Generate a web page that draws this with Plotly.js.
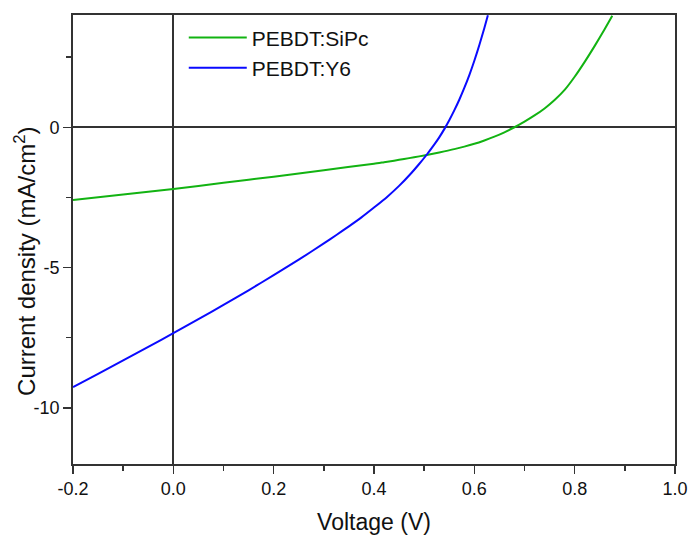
<!DOCTYPE html>
<html>
<head>
<meta charset="utf-8">
<script src="https://cdn.plot.ly/plotly-3.0.1.min.js"></script>
<style>
  html, body { margin: 0; padding: 0; background: #fff; }
  #chart { width: 691px; height: 535px; }
</style>
</head>
<body>
<div id="chart"></div>
<script>
// J–V curves of the two blend devices (voltage in V, current density in mA/cm²)
const sipcVoltage = [-0.2, -0.1, 0.0, 0.1, 0.2, 0.3, 0.4, 0.42, 0.44, 0.46, 0.48, 0.50, 0.52, 0.54, 0.56, 0.58, 0.60, 0.62, 0.64, 0.66, 0.68, 0.70, 0.72, 0.74, 0.76, 0.78, 0.80, 0.82, 0.84, 0.86, 0.875];
const sipcCurrent = [-2.59, -2.40, -2.20, -1.98, -1.76, -1.53, -1.30, -1.245, -1.19, -1.13, -1.07, -1.005, -0.935, -0.86, -0.78, -0.69, -0.59, -0.47, -0.335, -0.18, 0.0, 0.20, 0.42, 0.67, 0.97, 1.33, 1.80, 2.33, 2.90, 3.50, 3.97];

const y6Voltage = [-0.2, -0.15, -0.1, -0.05, 0.0, 0.05, 0.1, 0.15, 0.2, 0.25, 0.3, 0.325, 0.35, 0.375, 0.4, 0.425, 0.45, 0.475, 0.49, 0.505, 0.52, 0.53, 0.541, 0.55, 0.56, 0.57, 0.58, 0.59, 0.60, 0.61, 0.62, 0.627];
const y6Current = [-9.26, -8.79, -8.31, -7.83, -7.34, -6.84, -6.33, -5.81, -5.27, -4.72, -4.14, -3.84, -3.53, -3.21, -2.86, -2.50, -2.09, -1.62, -1.31, -0.98, -0.62, -0.36, -0.04, 0.25, 0.60, 0.98, 1.40, 1.86, 2.37, 2.93, 3.54, 3.99];

const seriesNames = ['PEBDT:SiPc', 'PEBDT:Y6'];
const xTickVals = [-0.2, 0.0, 0.2, 0.4, 0.6, 0.8, 1.0];
const xTickText = ['-0.2', '0.0', '0.2', '0.4', '0.6', '0.8', '1.0'];
const yTickVals = [-10, -5, 0];
const yTickText = ['-10', '-5', '0'];

const font = 'Liberation Sans, Arial, sans-serif';

const traces = [
  {
    x: sipcVoltage, y: sipcCurrent, name: seriesNames[0],
    type: 'scatter', mode: 'lines',
    line: { color: '#12b312', width: 2, shape: 'spline', smoothing: 0.6 }
  },
  {
    x: y6Voltage, y: y6Current, name: seriesNames[1],
    type: 'scatter', mode: 'lines',
    line: { color: '#0a0aff', width: 2, shape: 'spline', smoothing: 0.6 }
  }
];

const axisCommon = {
  showgrid: false,
  showline: true,
  linecolor: '#333',
  linewidth: 1.8,
  mirror: true,
  ticks: 'outside',
  tickcolor: '#333',
  tickwidth: 1.5,
  ticklen: 8,
  zeroline: true,
  zerolinecolor: '#333',
  zerolinewidth: 1.8,
  tickfont: { family: font, size: 18, color: '#111' }
};

const layout = {
  width: 691,
  height: 535,
  paper_bgcolor: '#fff',
  plot_bgcolor: '#fff',
  margin: { l: 73, r: 16, t: 15, b: 71 },
  showlegend: true,
  legend: {
    x: 0.184, y: 0.995, xanchor: 'left', yanchor: 'top',
    bgcolor: 'rgba(0,0,0,0)',
    font: { family: font, size: 21, color: '#111' },
    itemwidth: 58,
    tracegroupgap: 0
  },
  xaxis: Object.assign({}, axisCommon, {
    range: [-0.2, 1.0],
    tickvals: xTickVals,
    ticktext: xTickText,
    minor: { dtick: 0.1, ticklen: 5, tickcolor: '#333', tickwidth: 1.5, ticks: 'outside', showgrid: false },
    title: { text: 'Voltage (V)', font: { family: font, size: 23, color: '#111' }, standoff: 16 }
  }),
  yaxis: Object.assign({}, axisCommon, {
    range: [-12, 4],
    tickvals: yTickVals,
    ticktext: yTickText,
    minor: { dtick: 2.5, ticklen: 5, tickcolor: '#333', tickwidth: 1.5, ticks: 'outside', showgrid: false }
  }),
  annotations: [
    {
      text: 'Current density (mA/cm<sup>2</sup>)',
      xref: 'paper', yref: 'paper',
      x: -0.08, y: 0.452,
      xanchor: 'center', yanchor: 'middle',
      textangle: -90,
      showarrow: false,
      font: { family: font, size: 24, color: '#111' }
    }
  ]
};

Plotly.newPlot('chart', traces, layout, { staticPlot: true, displayModeBar: false });
</script>
</body>
</html>
